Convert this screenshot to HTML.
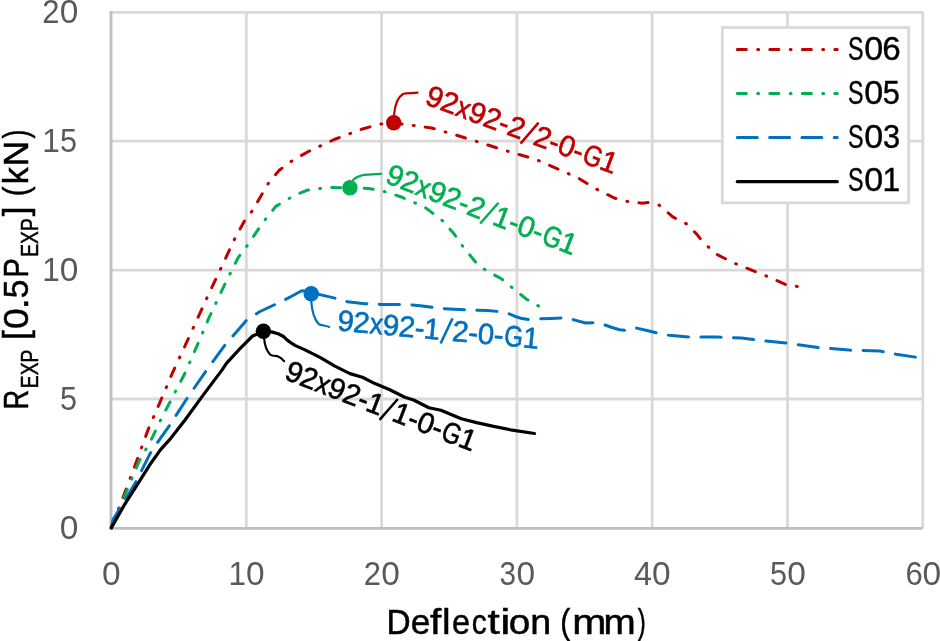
<!DOCTYPE html>
<html><head><meta charset="utf-8">
<style>
html,body{margin:0;padding:0;background:#fff;}
body{width:940px;height:641px;overflow:hidden;}
svg{display:block;will-change:transform;}
text{font-family:"Liberation Sans",sans-serif;}
</style></head>
<body>
<svg width="940" height="641" viewBox="0 0 940 641">
<rect width="940" height="641" fill="#fff"/>
<!-- gridlines -->
<g stroke="#d9d9d9" stroke-width="2.8" fill="none">
<path d="M111 12.3H922.8M111 141.2H922.8M111 270.1H922.8M111 399H922.8"/>
<path d="M246.3 12.3V527.9M381.6 12.3V527.9M516.9 12.3V527.9M652.2 12.3V527.9M787.5 12.3V527.9M922.8 12.3V527.9"/>
</g>
<g stroke="#bfbfbf" stroke-width="2.8" fill="none">
<path d="M111 11V528.3"/>
<path d="M109.6 528.3H922.8"/>
</g>
<!-- tick labels -->
<g font-size="33" fill="#595959"><g transform="translate(0 584.6)"><text transform="translate(101.94 0) scale(1.014 1)">0</text></g><g transform="translate(0 584.6)"><text transform="translate(228.60 0) scale(0.956 1)">1</text><text transform="translate(245.99 0) scale(1.014 1)">0</text></g><g transform="translate(0 584.6)"><text transform="translate(363.84 0) scale(0.938 1)">2</text><text transform="translate(381.29 0) scale(1.014 1)">0</text></g><g transform="translate(0 584.6)"><text transform="translate(499.57 0) scale(0.901 1)">3</text><text transform="translate(516.59 0) scale(1.014 1)">0</text></g><g transform="translate(0 584.6)"><text transform="translate(634.06 0) scale(0.980 1)">4</text><text transform="translate(651.89 0) scale(1.014 1)">0</text></g><g transform="translate(0 584.6)"><text transform="translate(769.98 0) scale(0.927 1)">5</text><text transform="translate(787.19 0) scale(1.014 1)">0</text></g><g transform="translate(0 584.6)"><text transform="translate(905.43 0) scale(0.939 1)">6</text><text transform="translate(922.49 0) scale(1.014 1)">0</text></g><g transform="translate(0 23.2)"><text transform="translate(42.24 0) scale(0.938 1)">2</text><text transform="translate(59.69 0) scale(1.014 1)">0</text></g><g transform="translate(0 152.1)"><text transform="translate(42.30 0) scale(0.956 1)">1</text><text transform="translate(59.98 0) scale(0.927 1)">5</text></g><g transform="translate(0 281.0)"><text transform="translate(42.30 0) scale(0.956 1)">1</text><text transform="translate(59.69 0) scale(1.014 1)">0</text></g><g transform="translate(0 409.9)"><text transform="translate(59.98 0) scale(0.927 1)">5</text></g><g transform="translate(0 538.8)"><text transform="translate(59.69 0) scale(1.014 1)">0</text></g></g>
<!-- axis titles -->
<g transform="translate(0 633.7)" font-size="35.9" fill="#000" stroke="#000" stroke-width="0.5"><text transform="translate(386.46 0) scale(0.931 1)">D</text><text transform="translate(410.70 0) scale(0.985 1)">e</text><text transform="translate(430.12 0) scale(1.135 1)">f</text><text transform="translate(441.99 0) scale(1.078 1)">l</text><text transform="translate(451.91 0) scale(0.908 1)">e</text><text transform="translate(471.63 0) scale(0.833 1)">c</text><text transform="translate(487.53 0) scale(1.233 1)">t</text><text transform="translate(500.26 0) scale(1.268 1)">i</text><text transform="translate(508.77 0) scale(1.080 1)">o</text><text transform="translate(530.20 0) scale(1.049 1)">n</text><text transform="translate(560.33 0) scale(0.840 1)">(</text><text transform="translate(572.28 0) scale(1.141 1)">m</text><text transform="translate(603.53 0) scale(1.077 1)">m</text><text transform="translate(637.86 0) scale(0.672 1)">)</text></g>
<g transform="translate(28 407.3) rotate(-90)" fill="#000" stroke="#000" stroke-width="0.5"><text transform="translate(-2.24 0) scale(0.760 1)" font-size="35.9">R</text><text transform="translate(19.12 10) scale(0.814 1)" font-size="23.7">EXP</text><text transform="translate(67.39 0) scale(0.981 1)" font-size="35.9">[</text><text transform="translate(78.25 0) scale(1.037 1)" font-size="35.9">0</text><text transform="translate(97.96 0) scale(1.112 1)" font-size="35.9">.</text><text transform="translate(109.16 0) scale(0.934 1)" font-size="35.9">5</text><text transform="translate(129.50 0) scale(0.816 1)" font-size="35.9">P</text><text transform="translate(150.52 10) scale(0.814 1)" font-size="23.7">EXP</text><text transform="translate(191.12 0) scale(0.981 1)" font-size="35.9">]</text><text transform="translate(210.98 0) scale(0.819 1)" font-size="35.9">(</text><text transform="translate(223.00 0) scale(0.950 1)" font-size="35.9">k</text><text transform="translate(241.13 0) scale(0.975 1)" font-size="35.9">N</text><text transform="translate(268.85 0) scale(0.735 1)" font-size="35.9">)</text></g>

<!-- series -->
<g fill="none" stroke-width="3" stroke-linejoin="round">
<path id="s06" pathLength="964" stroke="#c00000" stroke-dasharray="9.1 11.3 0.9 11.2" stroke-linecap="round" d="M111.3 527.9L118.5 508.8L123.8 495.3L134.6 466.6L148 429.9L159.8 402.6L171.8 374.3L186 343.7L198.6 316.2L207.2 297.3L220.9 268.2L234.6 239L244.9 220.1L251.8 211.5L268.9 182.4L279.2 170.3L293 160.1L308.4 151.5L334.1 139.5L361.6 129.2L380.5 124L393.5 123L407.5 124.6L431.5 128L455.5 134.9L483 143.5L510.4 152.1L534.4 158.9L558.4 169.2L579 178.5L597.2 189.5L614.3 198L628 201.5L641.8 203.2L648.6 202.5L658.9 204.9L672.7 216.9L686.4 223.8L696.7 234.1L703.5 242.7L717.3 254.7L734.4 263.2L751.6 270.1L768.7 277L786.8 285L797.5 286.5"/>
<path id="s05" stroke="#00b050" stroke-dasharray="9.1 11.3 0.9 11.2" stroke-linecap="round" d="M111.3 527.9L119.3 508.8L125.6 493.5L139.1 461.3L151.1 440L160.6 420L169.7 402.6L184.9 373.2L197 345.9L208.9 317.9L224.3 285.3L238 257.9L248.3 244.1L262.1 223.5L275.8 206.4L293 196.1L306.7 190.3L327.3 187.5L349.5 187.8L368.4 188.5L382.2 190.9L400.6 196.7L424.6 207L442.5 220.7L453.7 233.4L463.5 247.4L476.2 262.8L486 270.4L501.4 278.8L512.7 288.1L526.7 299.3L539.3 306.4"/>
<path id="s03" pathLength="929" stroke="#0070c0" stroke-dasharray="20 12.3" stroke-linecap="round" d="M111.3 527.9L113.1 519.6L124.7 500.7L136.4 481L149.8 454.1L158.8 440.6L169.6 425.4L187.1 398.3L206.8 369.9L224.3 345.9L246.1 320.7L260 311.5L275 304.5L284.3 300.1L293 295.5L301.2 291L306 290.5L311.2 293.7L319.9 294.6L336.2 298.4L347.4 301.7L364.9 303.7L379.9 304.4L397.3 304.4L412.3 304.9L420 305.8L442.5 308.6L464.9 309.7L487.4 310.6L498.6 311.5L505 312.3L510 314.2L516.2 316.8L522 318.6L528.9 319.5L539.6 318.9L551 318.4L561.9 317.9L571.7 319.2L585.5 323L594 322.6L603.6 324.5L612 327.5L619.6 329.8L625 330.3L630 329L635.5 327.9L647 330.5L658 333.2L669.2 335.3L689.8 337L717.3 337L741.3 338.1L761.9 340.5L786.8 343L818 347.6L849.2 350.1L880.4 351.1L896 354.2L920 357.8"/>
<path id="s01" stroke="#000" stroke-width="3.2" stroke-linecap="round" d="M111.3 527.9L124.7 504.3L137.3 484.6L149.8 464.8L160.6 449.6L169.6 439.7L185 420L202.4 396.1L222.1 369.9L226.4 363.3L239.5 349.1L252.6 336L263.4 331.3L271.5 331.9L278.2 333.8L283.1 336.2L287.3 340.1L291.5 343.2L295 345.4L305 349.9L320 357.4L334.9 366.1L349.9 373.6L362.4 377.3L374.9 383.6L389.8 389.8L404.8 397.3L413.6 400L428.9 407.7L440.9 410.2L451.1 414.5L461.3 418.7L476.6 422.6L493.6 426.4L510.6 429.8L534.5 433.5"/>
</g>
<!-- leader lines -->
<g fill="none" stroke-width="2.2" stroke-linecap="round">
<path stroke="#c00000" d="M394 115C395 104 398 97 403 94C407 92.5 412 93.5 417.5 92.7"/>
<path stroke="#00b050" d="M353 180C356 177.2 359.5 175.8 364 174.9C370 174.1 376 173.9 381 173.8"/>
<path stroke="#0070c0" d="M311.3 301.7C312 311 314 319 318.5 323.8C321 326 325 325 329.2 326.9"/>
<path stroke="#000" d="M264.1 338C264.5 344 266 350 270.1 354.5C272 356 275 356 277.5 356.2C280 357 282.5 359 284.1 361.1"/>
</g>
<!-- markers -->
<circle cx="393.7" cy="122.8" r="7.7" fill="#c00000"/>
<circle cx="349.9" cy="187.8" r="7.7" fill="#00b050"/>
<circle cx="311.2" cy="293.7" r="7.7" fill="#0070c0"/>
<circle cx="263.4" cy="331.2" r="7.7" fill="#000"/>
<!-- data labels -->
<g font-size="29.4" stroke-width="0.6"><g transform="translate(425.2 104.3) rotate(20.4)" fill="#c00000" stroke="#c00000"><text x="-1.58">9</text><text x="14.38">2</text><text transform="translate(30.74 0) scale(0.9 1)">x</text><text x="44.00">9</text><text x="59.96">2</text><text x="76.05">-</text><text x="85.57">2</text><path d="M103.03 3.6L112.63 -22.4" fill="none" stroke-width="2.5" stroke-linecap="butt"/><text x="113.73">2</text><text x="129.82">-</text><text x="139.34">0</text><text x="155.43">-</text><text transform="translate(166.00 0) scale(0.82 1)">G</text><text x="184.42">1</text></g>
<g transform="translate(385.4 182.9) rotate(21.2)" fill="#00b050" stroke="#00b050"><text x="-1.58">9</text><text x="14.38">2</text><text transform="translate(30.74 0) scale(0.9 1)">x</text><text x="44.00">9</text><text x="59.96">2</text><text x="76.05">-</text><text x="85.57">2</text><path d="M103.03 3.6L112.63 -22.4" fill="none" stroke-width="2.5" stroke-linecap="butt"/><text x="113.33">1</text><text x="129.82">-</text><text x="139.34">0</text><text x="155.43">-</text><text transform="translate(166.00 0) scale(0.82 1)">G</text><text x="184.42">1</text></g>
<g transform="translate(338.3 330.5) rotate(5.2)" fill="#0070c0" stroke="#0070c0"><text x="-1.58">9</text><text x="14.38">2</text><text transform="translate(30.74 0) scale(0.9 1)">x</text><text x="44.00">9</text><text x="59.96">2</text><text x="76.05">-</text><text x="85.17">1</text><path d="M103.03 3.6L112.63 -22.4" fill="none" stroke-width="2.5" stroke-linecap="butt"/><text x="113.73">2</text><text x="129.82">-</text><text x="139.34">0</text><text x="155.43">-</text><text transform="translate(166.00 0) scale(0.82 1)">G</text><text x="184.42">1</text></g>
<g transform="translate(284.7 379.4) rotate(21.1)" fill="#000" stroke="#000"><text x="-1.58">9</text><text x="14.38">2</text><text transform="translate(30.74 0) scale(0.9 1)">x</text><text x="44.00">9</text><text x="59.96">2</text><text x="76.05">-</text><text x="85.17">1</text><path d="M103.03 3.6L112.63 -22.4" fill="none" stroke-width="2.5" stroke-linecap="butt"/><text x="113.33">1</text><text x="129.82">-</text><text x="139.34">0</text><text x="155.43">-</text><text transform="translate(166.00 0) scale(0.82 1)">G</text><text x="184.42">1</text></g></g>
<!-- legend -->
<rect x="722.3" y="27.5" width="186.3" height="175.3" fill="#fff" stroke="#d9d9d9" stroke-width="2.8"/>
<g stroke-width="3" fill="none">
<path stroke="#c00000" stroke-dasharray="9.1 11.3 0.9 11.2" stroke-linecap="round" d="M737.3 49.5H837.3"/>
<path stroke="#00b050" stroke-dasharray="9.1 11.3 0.9 11.2" stroke-linecap="round" d="M737.3 93.5H837.3"/>
<path stroke="#0070c0" stroke-dasharray="20 12.3" stroke-linecap="round" d="M737.3 137.6H837.3"/>
<path stroke="#000" stroke-width="3.2" d="M737.3 181.7H837.3" stroke-linecap="round"/>
</g>
<g font-size="33" fill="#000" stroke="#000" stroke-width="0.4"><g transform="translate(0 59.8)"><text transform="translate(848.04 0) scale(0.705 1)">S</text><text transform="translate(864.37 0) scale(1.033 1)">0</text><text transform="translate(882.22 0) scale(1.005 1)">6</text></g><g transform="translate(0 103.7)"><text transform="translate(848.04 0) scale(0.705 1)">S</text><text transform="translate(864.37 0) scale(1.033 1)">0</text><text transform="translate(882.77 0) scale(0.933 1)">5</text></g><g transform="translate(0 147.5)"><text transform="translate(848.04 0) scale(0.705 1)">S</text><text transform="translate(864.37 0) scale(1.033 1)">0</text><text transform="translate(882.93 0) scale(0.933 1)">3</text></g><g transform="translate(0 191.4)"><text transform="translate(848.04 0) scale(0.705 1)">S</text><text transform="translate(864.37 0) scale(1.033 1)">0</text><text transform="translate(882.48 0) scale(0.963 1)">1</text></g></g>
</svg>
</body></html>
